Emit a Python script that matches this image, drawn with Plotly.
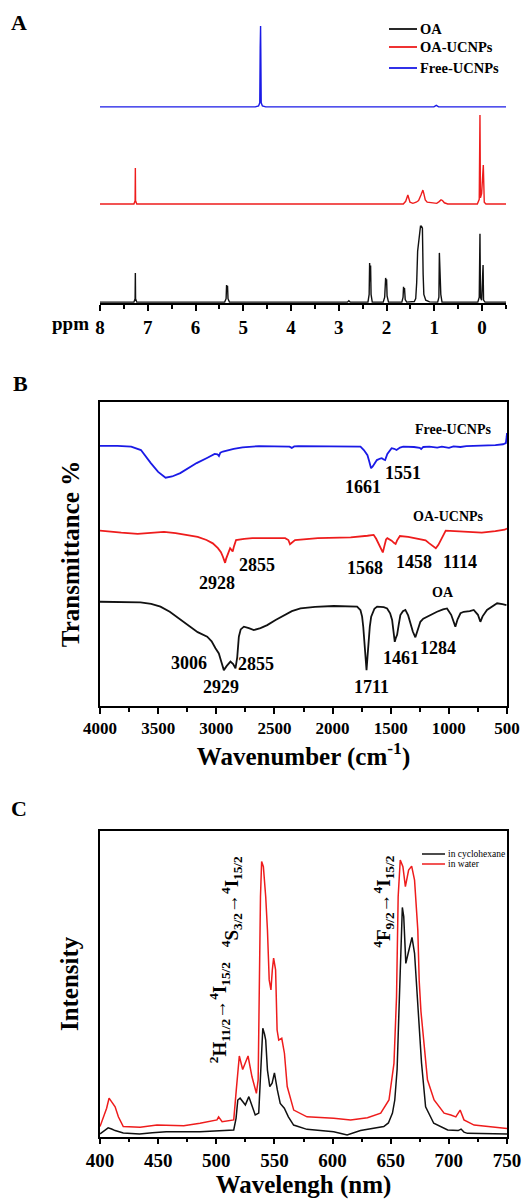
import plotly.graph_objects as go

SERIF = "Liberation Serif"
W, H = 532, 1199

# ---------------- Panel A : 1H NMR (ppm, relative intensity) ----------------
nmr_oa_ppm = [8.0, 7.29, 7.265, 7.26, 7.255, 7.23,
              5.39, 5.36, 5.35, 5.34, 5.33, 5.32, 5.29,
              2.82, 2.79, 2.76,
              2.39, 2.365, 2.355, 2.345, 2.335, 2.325, 2.30,
              2.07, 2.04, 2.03, 2.02, 2.01, 2.00, 1.99, 1.96,
              1.68, 1.655, 1.645, 1.635, 1.625, 1.61, 1.58,
              1.42, 1.39, 1.37, 1.35, 1.33, 1.31, 1.29, 1.27, 1.25, 1.235, 1.22, 1.18, 1.10,
              0.93, 0.905, 0.895, 0.885, 0.875, 0.865, 0.84,
              0.09, 0.06, 0.045, 0.035, 0.01, -0.02, -0.025, -0.03, -0.06, -0.5]
nmr_oa_int = [0.3, 0.3, 1.5, 10.4, 1.5, 0.3,
              0.3, 1.5, 6.2, 4.5, 6.0, 1.5, 0.3,
              0.3, 0.8, 0.3,
              0.3, 3.0, 13.9, 7.5, 13.0, 3.0, 0.3,
              0.3, 2.0, 6.0, 8.7, 7.0, 8.2, 2.5, 0.3,
              0.3, 2.0, 5.6, 4.0, 5.2, 1.2, 0.3,
              0.5, 1.5, 7.0, 18.0, 21.2, 24.0, 26.7, 26.7, 26.0, 10.0, 3.0, 1.0, 0.4,
              0.3, 2.0, 17.4, 10.0, 14.0, 3.0, 0.3,
              0.3, 2.0, 24.0, 2.0, 1.0, 13.2, 1.5, 1.0, 0.3, 0.3]

nmr_oaucnp_ppm = [8.0, 7.29, 7.265, 7.26, 7.255, 7.23,
                  1.65, 1.60, 1.555, 1.51, 1.45, 1.38, 1.33, 1.28, 1.24, 1.22, 1.19, 1.15,
                  1.05, 0.95, 0.90, 0.86, 0.83, 0.79, 0.72,
                  0.10, 0.06, 0.045, 0.035, 0.01, -0.025, -0.035, -0.045, -0.08, -0.5]
nmr_oaucnp_int = [34.4, 34.4, 35.5, 46.9, 35.5, 34.4,
                  34.4, 35.3, 37.5, 35.0, 34.6, 35.0, 35.6, 37.5, 39.2, 38.0, 35.8, 35.0,
                  34.7, 34.6, 35.2, 35.8, 35.6, 34.8, 34.4,
                  34.4, 36.0, 65.3, 36.5, 38.0, 47.9, 37.0, 35.0, 34.4, 34.4]

nmr_free_ppm = [8.0, 4.75, 4.68, 4.655, 4.646, 4.642, 4.638, 4.634, 4.625, 4.60, 4.53,
                1.01, 0.96, 0.91, -0.5]
nmr_free_int = [68.1, 68.1, 68.4, 69.5, 88.5, 96.2, 96.2, 88.5, 69.5, 68.4, 68.1,
                68.1, 68.6, 68.1, 68.1]

# ---------------- Panel B : FTIR (cm-1, transmittance, offset) ----------------
ir_free_wn = [4000, 3850, 3732, 3648, 3563, 3500, 3436, 3380, 3310, 3240, 3169, 3080,
              3014, 2990, 2977, 2965, 2943, 2850, 2774, 2633, 2408, 2370, 2351, 2330,
              2295, 1844, 1760, 1731, 1700, 1685, 1669, 1655, 1647, 1619, 1590, 1577,
              1560, 1548, 1529, 1492, 1470, 1450, 1420, 1393, 1300, 1250, 1238, 1220,
              1168, 1100, 1060, 999, 960, 900, 850, 717, 600, 534, 510, 503, 500]
ir_free_t = [85.6, 85.6, 85.3, 84.2, 79.9, 77.0, 75.1, 75.5, 76.6, 78.3, 79.9, 81.6,
             82.9, 82.8, 82.2, 83.3, 83.7, 84.6, 85.1, 85.5, 85.5, 85.3, 84.9, 85.4,
             85.5, 85.5, 85.3, 84.2, 82.5, 80.5, 78.2, 78.8, 79.3, 80.9, 81.4, 81.5,
             81.1, 80.9, 82.9, 84.8, 84.6, 84.2, 85.0, 85.3, 85.2, 84.9, 84.5, 85.2,
             85.3, 85.0, 85.3, 84.9, 85.4, 85.2, 85.5, 85.6, 85.8, 86.1, 86.5, 88.5, 89.8]

ir_oaucnp_wn = [4000, 3900, 3817, 3676, 3550, 3450, 3350, 3253, 3160, 3084, 3030, 2986,
                2960, 2943, 2930, 2924, 2915, 2901, 2881, 2870, 2859, 2848, 2830, 2760,
                2690, 2408, 2380, 2366, 2345, 2323, 2126, 1844, 1700, 1647, 1625, 1605,
                1585, 1568, 1555, 1540, 1529, 1510, 1492, 1470, 1458, 1445, 1421, 1350,
                1281, 1200, 1168, 1140, 1112, 1090, 1069, 1045, 1027, 950, 858, 717, 600,
                520, 500]
ir_oaucnp_t = [57.7, 57.2, 57.0, 56.6, 57.1, 57.3, 56.9, 56.3, 55.6, 54.6, 53.5, 51.9,
               50.6, 49.1, 47.5, 47.1, 48.5, 50.2, 51.9, 51.4, 50.8, 52.5, 54.6, 55.0,
               55.2, 55.2, 54.6, 53.2, 54.0, 54.6, 55.2, 55.5, 56.0, 56.3, 55.0, 53.5,
               51.5, 50.5, 52.5, 54.8, 55.2, 54.9, 54.4, 53.6, 53.3, 54.5, 55.9, 55.6,
               55.2, 54.5, 53.5, 52.8, 51.9, 53.0, 54.6, 56.5, 57.7, 57.5, 57.3, 57.0, 57.5,
               58.0, 58.4]

ir_oa_wn = [4000, 3850, 3652, 3560, 3480, 3400, 3330, 3250, 3160, 3078, 3040, 3007,
            2978, 2960, 2935, 2910, 2878, 2855, 2835, 2820, 2806, 2790, 2763, 2720,
            2677, 2620, 2562, 2490, 2419, 2350, 2276, 2150, 1990, 1880, 1789, 1760,
            1746, 1736, 1726, 1716, 1708, 1700, 1691, 1680, 1668, 1640, 1617, 1560,
            1531, 1505, 1488, 1475, 1465, 1455, 1445, 1430, 1417, 1395, 1374, 1350,
            1331, 1310, 1288, 1270, 1245, 1220, 1188, 1140, 1102, 1050, 1016, 980,
            960, 944, 925, 900, 872, 820, 786, 750, 729, 710, 672, 630, 585, 540, 505]
ir_oa_t = [34.3, 34.2, 34.1, 33.6, 32.7, 31.0, 29.0, 26.6, 24.3, 22.8, 21.3, 19.0,
           17.3, 15.0, 11.8, 13.2, 14.6, 13.8, 12.4, 16.0, 22.8, 25.2, 26.1, 25.6,
           25.0, 25.6, 26.6, 28.3, 29.9, 31.2, 32.1, 32.6, 32.9, 32.8, 32.7, 31.5,
           29.4, 26.0, 21.7, 15.0, 11.8, 16.0, 21.7, 26.0, 29.4, 32.0, 32.7, 32.5,
           32.1, 30.5, 28.3, 24.5, 21.1, 22.5, 23.4, 27.0, 29.9, 31.2, 31.6, 29.8,
           27.2, 24.5, 22.6, 24.5, 27.7, 28.7, 29.4, 30.3, 31.0, 31.8, 32.1, 30.0,
           27.5, 26.1, 28.5, 30.5, 31.0, 31.2, 31.6, 30.0, 27.7, 29.5, 31.6, 32.8,
           33.8, 33.5, 33.2]

ir_labels_text = ["1661", "1551", "2855", "2928", "1568", "1458", "1114",
                  "3006", "2855", "1461", "1284", "2929", "1711"]
ir_labels_wn = [1741, 1397, 2646, 2991, 1724, 1302, 905,
                3233, 2655, 1414, 1095, 2957, 1664]
ir_labels_t = [72.1, 76.6, 46.4, 40.6, 45.4, 47.4, 47.4,
               14.1, 13.8, 15.8, 19.1, 6.3, 6.3]
ir_names = ["Free-UCNPs", "OA-UCNPs", "OA"]
ir_names_wn = [965, 1000, 1052]
ir_names_t = [91.1, 62.5, 37.2]

# ---------------- Panel C : upconversion luminescence (nm, intensity) ----------------
pl_cyc_nm = [400, 404, 407, 410, 413, 420, 434, 445, 457, 486, 505, 515, 517, 518.5,
             520.5, 523, 525, 528, 531, 533.5, 536.5, 538, 540, 541.5, 542.5, 544, 546,
             548, 550, 552.5, 555, 558.5, 562, 566.5, 578, 601, 612.5, 624, 644, 648,
             651.5, 653.5, 655.5, 657, 658.5, 660, 661.2, 663, 665, 668.3, 670.5, 672.5,
             674.5, 676.5, 680, 687, 699, 708, 710.5, 713, 716, 750]
pl_cyc_int = [0.9, 2.0, 2.9, 2.5, 2.0, 1.2, 0.9, 1.3, 1.6, 1.6, 1.9, 2.2, 6.0, 12.0,
              12.6, 11.2, 10.4, 13.1, 10.0, 7.1, 7.7, 21.8, 35.5, 33.5, 31.6, 21.8, 16.4,
              17.5, 20.9, 15.3, 10.9, 9.3, 6.5, 3.8, 2.4, 1.6, 0.6, 2.0, 3.3, 4.5,
              7.7, 12.0, 22.0, 40.0, 62.0, 75.0, 72.0, 56.7, 60.0, 65.2, 60.0, 48.0,
              36.0, 24.1, 9.8, 4.4, 2.2, 2.0, 2.5, 1.5, 1.1, 0.9]

pl_water_nm = [400, 402.8, 405.7, 407.8, 410.6, 413, 415.8, 420, 434.5, 449, 472, 486,
               500.6, 502, 505, 515, 517.2, 519.8, 522.7, 527.3, 530.7, 534.5, 536, 537,
               538, 539, 540.5, 542.5, 544, 545.5, 547, 548.2, 549.3, 551, 552.3, 553.7,
               556.3, 558.6, 561, 566.6, 578, 601, 615.5, 630, 641.4, 648.5, 652.8, 655,
               656.4, 658.2, 660.5, 662.6, 665.4, 668, 670.5, 673.3, 674.5, 676, 681.6,
               687.3, 695.9, 701.7, 706, 709.7, 713, 721.7, 750]
pl_water_int = [3.3, 6.5, 9.3, 12.6, 10.9, 9.8, 6.5, 3.3, 3.1, 3.8, 3.6, 4.4,
                5.5, 6.5, 4.9, 5.5, 15.3, 26.4, 22.0, 26.4, 19.6, 14.2, 18.6, 51.0,
                78.5, 90.0, 88.3, 78.5, 67.6, 51.3, 48.0, 54.6, 58.4, 54.6, 34.9, 31.6,
                32.2, 27.3, 16.4, 8.7, 6.5, 6.0, 5.5, 6.2, 7.7, 12.0, 24.0, 45.8,
                78.5, 90.5, 88.3, 81.8, 87.2, 88.5, 83.9, 67.6, 51.0, 41.0, 18.6,
                12.0, 7.7, 7.1, 6.5, 8.7, 5.5, 3.8, 2.7]

pl_trans_text = ["<sup>4</sup>S<sub>3/2</sub>\u2192<sup>4</sup>I<sub>15/2</sub>",
                 "<sup>4</sup>F<sub>9/2</sub>\u2192<sup>4</sup>I<sub>15/2</sub>",
                 "<sup>2</sup>H<sub>11/2</sub>\u2192<sup>4</sup>I<sub>15/2</sub>"]
pl_trans_nm = [513.8, 644.0, 503.4]
pl_trans_int = [76.8, 76.8, 40.5]

# legend labels
legA_names = ["OA", "OA-UCNPs", "Free-UCNPs"]
legC_names = ["in cyclohexane", "in water"]

# ---------------- figure ----------------
def px(x):
    return x / W

def py(y):
    return 1 - y / H

fig = go.Figure()
BLUE = "#1a1ae6"
RED = "#ee1c1c"
BLACK = "#111111"

fig.add_trace(go.Scatter(x=nmr_oa_ppm, y=nmr_oa_int, xaxis="x", yaxis="y", mode="lines",
                         line=dict(color=BLACK, width=1.4), name="OA"))
fig.add_trace(go.Scatter(x=nmr_oaucnp_ppm, y=nmr_oaucnp_int, xaxis="x", yaxis="y", mode="lines",
                         line=dict(color=RED, width=1.4), name="OA-UCNPs"))
fig.add_trace(go.Scatter(x=nmr_free_ppm, y=nmr_free_int, xaxis="x", yaxis="y", mode="lines",
                         line=dict(color=BLUE, width=1.4), name="Free-UCNPs"))

fig.add_trace(go.Scatter(x=ir_free_wn, y=ir_free_t, xaxis="x2", yaxis="y2", mode="lines",
                         line=dict(color=BLUE, width=1.8), name="Free-UCNPs"))
fig.add_trace(go.Scatter(x=ir_oaucnp_wn, y=ir_oaucnp_t, xaxis="x2", yaxis="y2", mode="lines",
                         line=dict(color=RED, width=1.8), name="OA-UCNPs"))
fig.add_trace(go.Scatter(x=ir_oa_wn, y=ir_oa_t, xaxis="x2", yaxis="y2", mode="lines",
                         line=dict(color=BLACK, width=1.8), name="OA"))

fig.add_trace(go.Scatter(x=pl_cyc_nm, y=pl_cyc_int, xaxis="x3", yaxis="y3", mode="lines",
                         line=dict(color=BLACK, width=1.5), name="in cyclohexane"))
fig.add_trace(go.Scatter(x=pl_water_nm, y=pl_water_int, xaxis="x3", yaxis="y3", mode="lines",
                         line=dict(color=RED, width=1.5), name="in water"))

bold = dict(family=SERIF, color="black", weight="bold")

def xax(dom, rng, dtick, minor, size, box):
    d = dict(domain=dom, range=rng, showline=True, linecolor="black", linewidth=1.5,
             mirror=box, ticks="outside", ticklen=6, tickwidth=1.5, tickcolor="black",
             dtick=dtick, tick0=0, showgrid=False, zeroline=False, automargin=False,
             tickfont=dict(size=size, **bold),
             minor=dict(dtick=minor, ticks="outside", ticklen=4, tickwidth=1.5,
                        tickcolor="black", showgrid=False))
    return d

xdomA = [px(100), px(506)]
xdomBC = [px(100), px(507)]

fig.update_layout(
    width=W, height=H, margin=dict(l=0, r=0, t=0, b=0, autoexpand=False),
    paper_bgcolor="white", plot_bgcolor="white",
    font=dict(family=SERIF, color="black"),
    showlegend=False,
    xaxis=xax(xdomA, [8, -0.5], 1, 0.5, 19, False) | dict(anchor="y"),
    yaxis=dict(domain=[py(303), py(15)], range=[0, 100], visible=False, anchor="x"),
    xaxis2=xax(xdomBC, [4000, 500], 500, 250, 17, True) | dict(
        anchor="y2",
        title=dict(text="Wavenumber (cm<sup>-1</sup>)", font=dict(size=25, **bold), standoff=0)),
    yaxis2=dict(domain=[py(706), py(402)], range=[0, 100], anchor="x2", showline=True,
                linecolor="black", linewidth=1.5, mirror=True, ticks="", showticklabels=False,
                showgrid=False, zeroline=False, automargin=False,
                title=dict(text="Transmittance %", font=dict(size=25, **bold), standoff=12)),
    xaxis3=xax(xdomBC, [400, 750], 50, 25, 19, True) | dict(
        anchor="y3",
        title=dict(text="Wavelengh (nm)", font=dict(size=25, **bold), standoff=8)),
    yaxis3=dict(domain=[py(1136.7), py(831)], range=[0, 100], anchor="x3", showline=True,
                linecolor="black", linewidth=1.5, mirror=True, ticks="", showticklabels=False,
                showgrid=False, zeroline=False, automargin=False,
                title=dict(text="Intensity", font=dict(size=25, **bold), standoff=12)),
)

ann = []
for t, xp, yp in [("A", 19, 23), ("B", 20, 383), ("C", 19, 808)]:
    ann.append(dict(text=t, x=px(xp), y=py(yp), xref="paper", yref="paper",
                    xanchor="center", yanchor="middle",
                    showarrow=False, font=dict(size=22, **bold)))
ann.append(dict(text="ppm", x=px(70), y=py(323), xref="paper", yref="paper",
                xanchor="center", yanchor="middle",
                showarrow=False, font=dict(size=19, **bold)))
for t, xv, yv in zip(ir_labels_text, ir_labels_wn, ir_labels_t):
    ann.append(dict(text=t, x=xv, y=yv, xref="x2", yref="y2", showarrow=False,
                    xanchor="center", yanchor="middle",
                    font=dict(size=18, **bold)))
for t, xv, yv in zip(ir_names, ir_names_wn, ir_names_t):
    ann.append(dict(text=t, x=xv, y=yv, xref="x2", yref="y2", showarrow=False,
                    xanchor="center", yanchor="middle",
                    font=dict(size=14, **bold)))
for t, xv, yv in zip(pl_trans_text, pl_trans_nm, pl_trans_int):
    ann.append(dict(text=t, x=xv, y=yv, xref="x3", yref="y3", showarrow=False,
                    xanchor="center", yanchor="middle",
                    textangle=-90, font=dict(size=19, **bold)))

shapes = []
# legend of panel A
for n, c, yy in zip(legA_names, [BLACK, RED, BLUE], [29, 47, 68]):
    shapes.append(dict(type="line", xref="paper", yref="paper", x0=px(389), x1=px(417),
                       y0=py(yy), y1=py(yy), line=dict(color=c, width=1.8)))
    ann.append(dict(text=n, x=px(418), y=py(yy), xref="paper", yref="paper",
                    xanchor="left", yanchor="middle", showarrow=False,
                    font=dict(size=14.5, **bold)))
# legend of panel C
for n, c, yy in zip(legC_names, [BLACK, RED], [854, 864]):
    shapes.append(dict(type="line", xref="paper", yref="paper", x0=px(422), x1=px(445),
                       y0=py(yy), y1=py(yy), line=dict(color=c, width=1.5)))
    ann.append(dict(text=n, x=px(446), y=py(yy), xref="paper", yref="paper",
                    xanchor="left", yanchor="middle", showarrow=False,
                    font=dict(size=9.5, family=SERIF, color="black")))

fig.update_layout(annotations=ann, shapes=shapes)

fig.write_html("out.html", config={"displayModeBar": False},
               post_script="document.body.style.margin='0';")
